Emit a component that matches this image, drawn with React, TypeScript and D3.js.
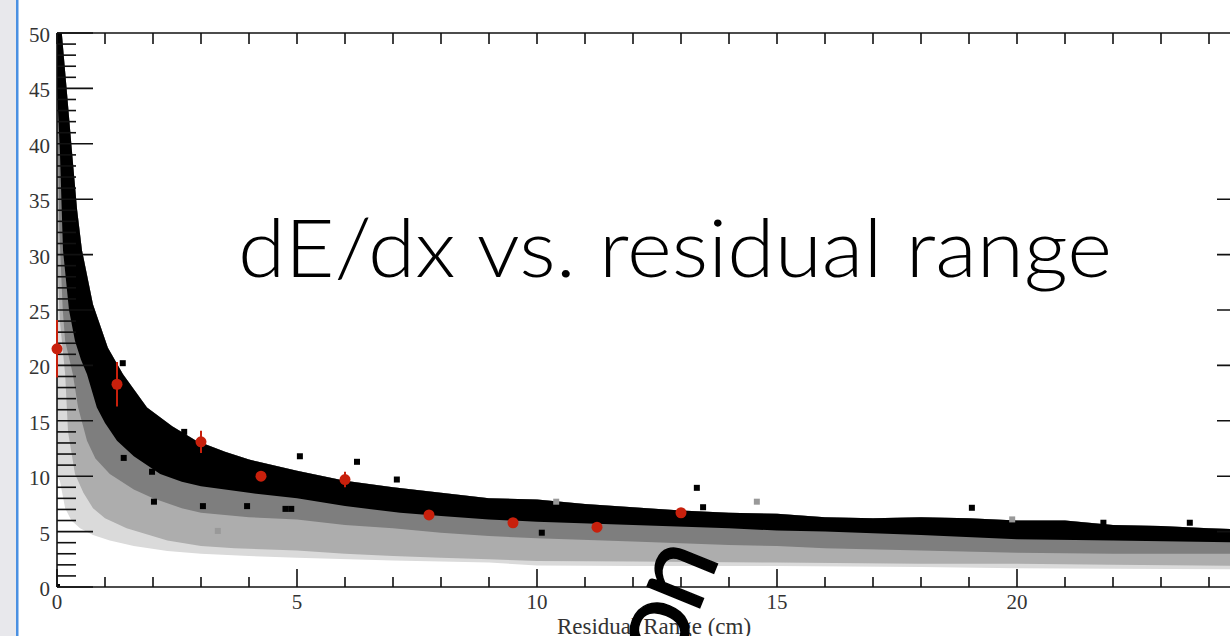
import React from "react";
import * as d3 from "d3";

// ---- data ----
// upper edge of the dense (black) band
const topX = [0, 0.1, 0.2, 0.31, 0.42, 0.52, 0.75, 1.06, 1.375, 1.875, 2.4, 2.9, 3.5, 4.0, 5.0, 6.0, 7.0, 8.0, 9.0, 10, 11, 12, 13, 14, 15, 16, 17, 18, 19, 20, 21, 22, 23, 24, 25];
const topV = [50, 50, 45, 39.4, 34, 30.4, 25.5, 21.6, 19.2, 16.2, 14.5, 13.2, 12.2, 11.5, 10.5, 9.6, 9.0, 8.5, 8.0, 7.9, 7.5, 7.2, 6.9, 6.7, 6.6, 6.3, 6.2, 6.3, 6.2, 6.0, 6.0, 5.6, 5.5, 5.3, 5.15];
// lower edge of the black band
const blackX = [0, 0.06, 0.125, 0.25, 0.375, 0.5, 0.625, 0.83, 1.0, 1.25, 1.6, 2.15, 2.6, 3.0, 4.0, 5.0, 6.0, 7.15, 8.0, 9.0, 10, 12, 14, 15, 16, 18, 20, 22, 25];
const blackV = [45, 39.4, 30.4, 25, 22.2, 20.5, 19.2, 16.2, 14.8, 13.2, 11.8, 10.2, 9.5, 9.1, 8.5, 8.0, 7.3, 6.7, 6.4, 6.1, 5.9, 5.6, 5.3, 5.1, 5.0, 4.7, 4.3, 4.2, 4.0];
// lower edge of the dark grey band
const darkX = [0, 0.05, 0.12, 0.17, 0.33, 0.44, 0.625, 0.8, 1.1, 1.6, 2.0, 2.6, 3.0, 4.0, 5.0, 6, 7, 8, 9, 10, 12, 14, 15, 16, 18, 20, 22, 25];
const darkV = [45, 32, 25, 22.2, 19.2, 16.2, 13.2, 11.6, 10.2, 8.8, 8.0, 7.1, 6.7, 6.3, 6.1, 5.6, 5.3, 4.9, 4.6, 4.4, 4.1, 3.8, 3.7, 3.5, 3.3, 3.1, 3.0, 3.0];
// lower edge of the mid grey band
const midX = [0, 0.06, 0.17, 0.23, 0.375, 0.55, 0.75, 1.0, 1.45, 2.3, 3.0, 3.7, 5.0, 6, 7, 8, 9, 10, 12, 15, 18, 20, 22, 25];
const midV = [30, 24, 19.2, 14, 10.2, 8.5, 7.1, 6.2, 5.3, 4.2, 3.7, 3.5, 3.3, 3.0, 2.8, 2.65, 2.5, 2.35, 2.3, 2.2, 2.1, 2.1, 2.0, 1.9];
// lower edge of the light grey band
const lightX = [0, 0.06, 0.17, 0.3, 0.48, 0.75, 1.1, 1.6, 2.3, 3.0, 4.0, 5.0, 7, 9, 10, 12, 15, 18, 20, 22, 25];
const lightV = [10, 9.6, 7.1, 6.0, 5.3, 4.7, 4.2, 3.7, 3.25, 3.0, 2.8, 2.65, 2.4, 2.2, 1.95, 1.9, 1.9, 1.8, 1.7, 1.65, 1.6];

// isolated entries
const outlierX = [1.37, 2.65, 1.39, 1.98, 2.02, 3.04, 3.96, 4.76, 4.88, 5.06, 6.25, 7.08, 10.1, 13.33, 13.46, 19.06, 21.8, 23.6, 0];
const outlierV = [20.2, 14.0, 11.65, 10.4, 7.7, 7.3, 7.3, 7.05, 7.05, 11.8, 11.3, 9.7, 4.9, 8.95, 7.2, 7.15, 5.8, 5.8, 0];
const greyOutX = [3.35, 14.58, 19.9, 10.4];
const greyOutV = [5.06, 7.7, 6.1, 7.7];

// red profile points
const profX = [0, 1.25, 3.0, 4.25, 6.0, 7.75, 9.5, 11.25, 13.0];
const profV = [21.5, 18.3, 13.1, 10.0, 9.7, 6.5, 5.8, 5.4, 6.7];
const profErr = [2.6, 2.0, 1.0, 0.4, 0.7, 0.3, 0.3, 0.3, 0.3];

const xTicks = d3.range(0, 26, 1);
const yTicks = d3.range(0, 51, 1);
const xLabels = [0, 5, 10, 15, 20];
const yLabels = [0, 5, 10, 15, 20, 25, 30, 35, 40, 45, 50];
const rightTicks = [5, 10, 15, 20, 25, 30, 35];

const title = "dE/dx vs. residual range";
const xTitle = "Residual Range (cm)";

export default function App() {
  const W = 1230, H = 636;
  const x = d3.scaleLinear().domain([0, 25]).range([57, 1257]);
  const y = d3.scaleLinear().domain([0, 50]).range([587, 33]);
  const line = d3.line<[number, number]>().x(d => x(d[0])).y(d => y(d[1]));
  const upper: [number, number][] = topX.map((v, i) => [v, topV[i]]);
  const band = (xs: number[], vs: number[]) => {
    const lower: [number, number][] = xs.map((v, i) => [v, vs[i]] as [number, number]).reverse();
    return (line(upper) || "") + (line(lower) || "").replace(/^M/, "L") + "Z";
  };
  const serif = "'Liberation Serif', 'Times New Roman', serif";
  const sans = "Lato, 'Open Sans', sans-serif";
  const tickCol = "#111";
  return (
    <svg width={W} height={H} style={{ position: "fixed", left: 0, top: 0, background: "#fff" }}>
      <defs>
        <clipPath id="plot">
          <rect x={x(0)} y={y(50)} width={x(25) - x(0)} height={y(0) - y(50)} />
        </clipPath>
      </defs>
      <rect x={0} y={0} width={W} height={H} fill="#fff" />
      <rect x={0} y={0} width={16} height={H} fill="#e8e8ec" />
      <rect x={16} y={0} width={2.5} height={H} fill="#4a90e2" />

      <g clipPath="url(#plot)">
        <path d={band(lightX, lightV)} fill="#dadada" />
        <path d={band(midX, midV)} fill="#adadad" />
        <path d={band(darkX, darkV)} fill="#7e7e7e" />
        <path d={band(blackX, blackV)} fill="#000" />
        {outlierX.map((v, i) => (
          <rect key={"o" + i} x={x(v) - 3} y={y(outlierV[i]) - 3} width={6} height={6} fill="#000" />
        ))}
        {greyOutX.map((v, i) => (
          <rect key={"g" + i} x={x(v) - 3} y={y(greyOutV[i]) - 3} width={6} height={6} fill="#999" />
        ))}
      </g>

      {/* frame */}
      <g stroke={tickCol} strokeWidth={1.6} fill="none">
        <line x1={x(0)} x2={x(0)} y1={y(0)} y2={y(50)} />
        <line x1={x(0)} x2={x(25)} y1={y(0)} y2={y(0)} />
        <line x1={x(0)} x2={x(25)} y1={y(50)} y2={y(50)} />
        <line x1={x(25)} x2={x(25)} y1={y(0)} y2={y(50)} />
        {yTicks.map(t => (
          <line key={"yl" + t} x1={x(0)} x2={x(0) + (t % 5 === 0 ? 36 : 19)} y1={y(t)} y2={y(t)} />
        ))}
        {rightTicks.map(t => (
          <line key={"yr" + t} x1={x(25)} x2={x(25) - 40} y1={y(t)} y2={y(t)} />
        ))}
        {xTicks.map(t => (
          <line key={"xb" + t} x1={x(t)} x2={x(t)} y1={y(0)} y2={y(0) - (t % 5 === 0 ? 18 : 10)} />
        ))}
        {xTicks.map(t => (
          <line key={"xt" + t} x1={x(t)} x2={x(t)} y1={y(50)} y2={y(50) + 11} />
        ))}
      </g>

      {/* red profile */}
      <g fill="#c8200c" stroke="#c8200c">
        {profX.map((v, i) => (
          <g key={"p" + i}>
            <line x1={x(v)} x2={x(v)} y1={y(profV[i] - profErr[i])} y2={y(profV[i] + profErr[i])} strokeWidth={2} />
            <circle cx={x(v)} cy={y(profV[i])} r={5.5} stroke="none" />
          </g>
        ))}
      </g>

      {/* tick labels */}
      <g fontFamily={serif} fontSize={21} fill="#333">
        {yLabels.map(t => (
          <text key={"ly" + t} x={50} y={y(t) + 9} textAnchor="end">{t}</text>
        ))}
        {xLabels.map(t => (
          <text key={"lx" + t} x={x(t)} y={609} textAnchor="middle">{t}</text>
        ))}
        <text x={654} y={634} textAnchor="middle" fontSize={23}>{xTitle}</text>
      </g>

      {/* slide overlay text */}
      <text x={238} y={277} fontFamily={sans} fontWeight={300} fontSize={80} fill="#000"
        textLength={874} lengthAdjust="spacingAndGlyphs">{title}</text>
      <text x={674} y={671} fontFamily={sans} fontWeight={400} fontSize={112} fill="#000"
        stroke="#000" strokeWidth={1.5} letterSpacing={-3}
        transform="rotate(-68 674 671)">on</text>
    </svg>
  );
}
